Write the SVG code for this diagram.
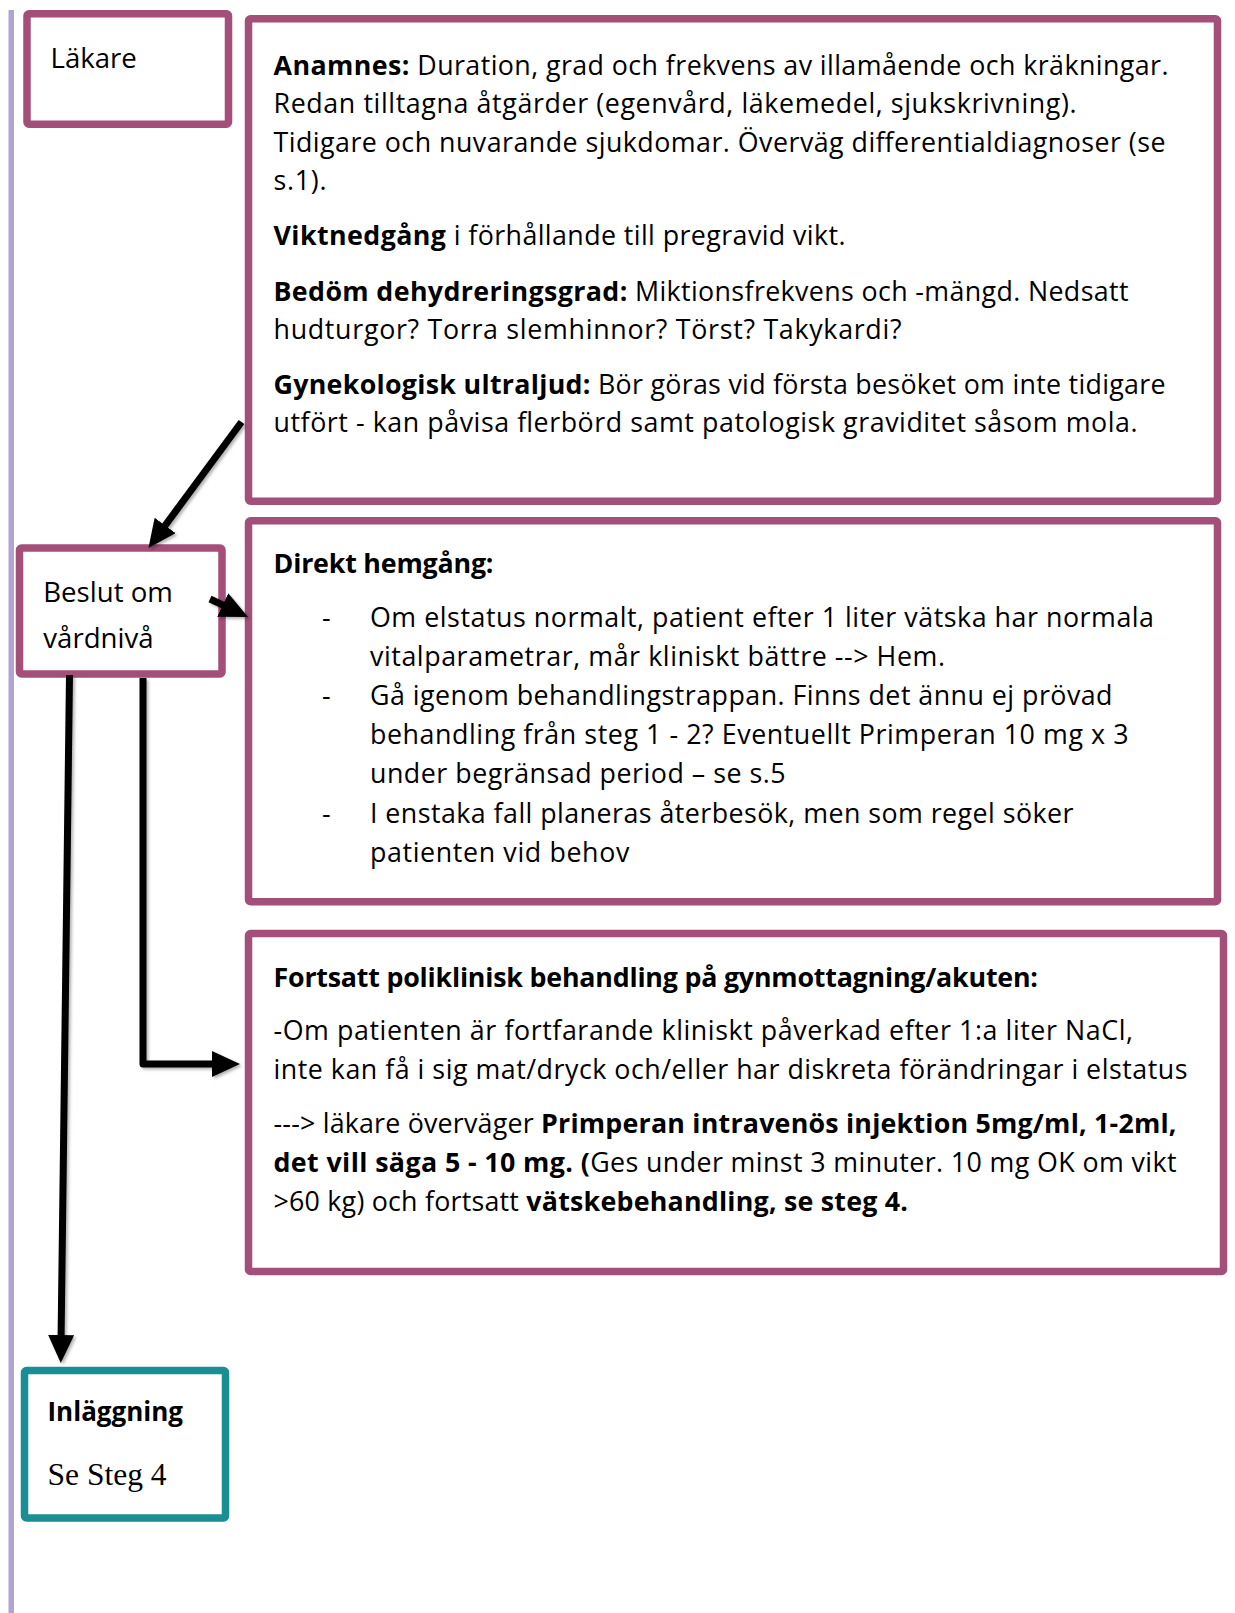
<svg xmlns="http://www.w3.org/2000/svg" width="1235" height="1613" viewBox="0 0 1235 1613">
<defs>
<style>
.box{fill:#ffffff;stroke:#a44f7a;stroke-width:7.5}
.teal{fill:#ffffff;stroke:#1b8d95;stroke-width:7.5}
.t{font-family:"Open Sans","Noto Sans","Liberation Sans",sans-serif;font-size:26.8px;fill:#000}
.lbl{font-family:"Open Sans","Noto Sans","Liberation Sans",sans-serif;font-size:27.6px;fill:#000}
.b{font-weight:bold}
.serif{font-family:"Liberation Serif","DejaVu Serif",serif;font-size:31.5px;fill:#000}
.conn{fill:none;stroke:#000;stroke-width:7}
</style>
<marker id="ah" markerUnits="userSpaceOnUse" markerWidth="28" markerHeight="26" refX="1" refY="13" orient="auto">
<path d="M0,0 L28,13 L0,26 Z" fill="#000"/>
</marker>
<filter id="sh" x="-20%" y="-20%" width="140%" height="140%">
<feDropShadow dx="2" dy="2" stdDeviation="1.5" flood-color="#000" flood-opacity="0.3"/>
</filter>
</defs>
<rect x="0" y="0" width="1235" height="1613" fill="#ffffff"/>
<rect x="8.5" y="10" width="5.5" height="1603" fill="#b1a3d3"/>

<g id="lakare">
<rect class="box" x="27" y="13.7" width="201.5" height="110.6" rx="2"/>
<text class="lbl" x="50.5" y="68">Läkare</text>
</g>

<g id="anamnes">
<rect class="box" x="248.5" y="18.7" width="969" height="482.6" rx="2"/>
<text class="t" x="273.5" y="75" textLength="895" lengthAdjust="spacing"><tspan class="b">Anamnes:</tspan> Duration, grad och frekvens av illamående och kräkningar.</text>
<text class="t" x="273.5" y="113" textLength="803" lengthAdjust="spacing">Redan tilltagna åtgärder (egenvård, läkemedel, sjukskrivning).</text>
<text class="t" x="273.5" y="152" textLength="892" lengthAdjust="spacing">Tidigare och nuvarande sjukdomar. Överväg differentialdiagnoser (se</text>
<text class="t" x="273.5" y="190" textLength="53" lengthAdjust="spacing">s.1).</text>
<text class="t" x="273.5" y="245" textLength="572" lengthAdjust="spacing"><tspan class="b">Viktnedgång</tspan> i förhållande till pregravid vikt.</text>
<text class="t" x="273.5" y="301" textLength="855" lengthAdjust="spacing"><tspan class="b">Bedöm dehydreringsgrad:</tspan> Miktionsfrekvens och -mängd. Nedsatt</text>
<text class="t" x="273.5" y="339" textLength="628" lengthAdjust="spacing">hudturgor? Torra slemhinnor? Törst? Takykardi?</text>
<text class="t" x="273.5" y="394" textLength="892" lengthAdjust="spacing"><tspan class="b">Gynekologisk ultraljud:</tspan> Bör göras vid första besöket om inte tidigare</text>
<text class="t" x="273.5" y="432" textLength="864" lengthAdjust="spacing">utfört - kan påvisa flerbörd samt patologisk graviditet såsom mola.</text>
</g>

<g id="beslut">
<rect class="box" x="19.5" y="548" width="202.5" height="126" rx="2"/>
<text class="lbl" x="43.3" y="601.5">Beslut om</text>
<text class="lbl" x="43.3" y="648.3">vårdnivå</text>
</g>

<g id="hemgang">
<rect class="box" x="248.5" y="520.7" width="969" height="381" rx="2"/>
<text class="t b" x="273.5" y="572.5" textLength="220" lengthAdjust="spacing">Direkt hemgång:</text>
<text class="t" x="322" y="627">-</text>
<text class="t" x="370" y="627" textLength="784" lengthAdjust="spacing">Om elstatus normalt, patient efter 1 liter vätska har normala</text>
<text class="t" x="370" y="666" textLength="575" lengthAdjust="spacing">vitalparametrar, mår kliniskt bättre --&gt; Hem.</text>
<text class="t" x="322" y="705">-</text>
<text class="t" x="370" y="705" textLength="742.5" lengthAdjust="spacing">Gå igenom behandlingstrappan. Finns det ännu ej prövad</text>
<text class="t" x="370" y="744" textLength="758.5" lengthAdjust="spacing">behandling från steg 1 - 2? Eventuellt Primperan 10 mg x 3</text>
<text class="t" x="370" y="783" textLength="415.6" lengthAdjust="spacing">under begränsad period – se s.5</text>
<text class="t" x="322" y="823">-</text>
<text class="t" x="370" y="823" textLength="703.5" lengthAdjust="spacing">I enstaka fall planeras återbesök, men som regel söker</text>
<text class="t" x="370" y="862" textLength="259.3" lengthAdjust="spacing">patienten vid behov</text>
</g>

<g id="poliklinisk">
<rect class="box" x="248.5" y="933.5" width="975" height="338" rx="2"/>
<text class="t b" x="273.5" y="987" textLength="764.5" lengthAdjust="spacing">Fortsatt poliklinisk behandling på gynmottagning/akuten:</text>
<text class="t" x="273.5" y="1040" textLength="859.5" lengthAdjust="spacing">-Om patienten är fortfarande kliniskt påverkad efter 1:a liter NaCl,</text>
<text class="t" x="273.5" y="1079" textLength="914" lengthAdjust="spacing">inte kan få i sig mat/dryck och/eller har diskreta förändringar i elstatus</text>
<text class="t" x="273.5" y="1133" textLength="903" lengthAdjust="spacing">---&gt; läkare överväger <tspan class="b">Primperan intravenös injektion 5mg/ml, 1-2ml,</tspan></text>
<text class="t" x="273.5" y="1172" textLength="903" lengthAdjust="spacing"><tspan class="b">det vill säga 5 - 10 mg. (</tspan>Ges under minst 3 minuter. 10 mg OK om vikt</text>
<text class="t" x="273.5" y="1211" textLength="634.5" lengthAdjust="spacing">&gt;60 kg) och fortsatt <tspan class="b">vätskebehandling, se steg 4.</tspan></text>
</g>

<g id="inlaggning">
<rect class="teal" x="24.5" y="1370.5" width="201" height="147.5" rx="2"/>
<text class="t b" x="47.5" y="1421" style="font-size:26px">Inläggning</text>
<text class="serif" x="47.5" y="1485">Se Steg 4</text>
</g>

<g id="connectors" filter="url(#sh)">
<line class="conn" x1="241.5" y1="422" x2="164.5" y2="526.3" stroke-width="6" marker-end="url(#ah)"/>
<line class="conn" x1="210" y1="599" x2="223.6" y2="605.4" marker-end="url(#ah)"/>
<line class="conn" x1="69.5" y1="675" x2="61.1" y2="1336" marker-end="url(#ah)"/>
<polyline class="conn" points="143,678 143,1064 213,1064" stroke-linejoin="round" marker-end="url(#ah)"/>
</g>
</svg>
